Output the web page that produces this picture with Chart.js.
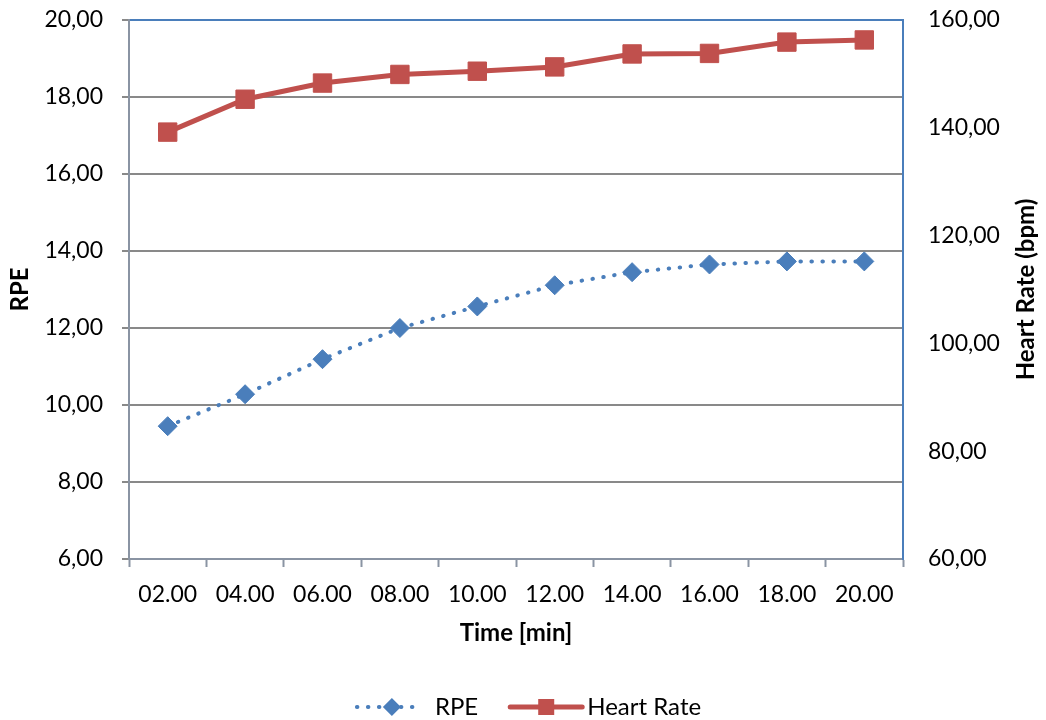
<!DOCTYPE html>
<html>
<head>
<meta charset="utf-8">
<script src="https://cdn.jsdelivr.net/npm/chart.js@4.4.1/dist/chart.umd.min.js"></script>
<style>
html, body { margin: 0; padding: 0; background: #fff; }
#wrap { width: 1046px; height: 720px; }
</style>
</head>
<body>
<div id="wrap"><canvas id="chart"></canvas></div>
<script>
'use strict'

const timeLabels = ['02.00', '04.00', '06.00', '08.00', '10.00', '12.00', '14.00', '16.00', '18.00', '20.00']
const rpeValues = [9.45, 10.28, 11.19, 12.0, 12.56, 13.11, 13.45, 13.65, 13.73, 13.73]
const heartRateValues = [139.2, 145.3, 148.3, 149.9, 150.5, 151.3, 153.7, 153.8, 155.9, 156.3]
const rpeAxis = { min: 6, max: 20, step: 2 }
const heartRateAxis = { min: 60, max: 160, step: 20 }

const BLUE = '#4a7ebb'
const RED = '#c0504d'
const GRID = '#898989'
const AXIS = '#8a94a3'
const FONT = 'Lato, "Open Sans", sans-serif'

const fmtComma = v => v.toFixed(2).replace('.', ',')

// fixed box sizes so the plot area lands where we want it
function fixWidth(w) {
	return scale => {
		scale.width = w
		scale.paddingTop = 0
		scale.paddingBottom = 0
	}
}

// legend under the chart plus the right-hand axis title (reads bottom to top)
const extras = {
	id: 'extras',
	afterDraw(chart) {
		const ctx = chart.ctx
		const area = chart.chartArea
		ctx.save()

		ctx.font = 'bold 24px ' + FONT
		ctx.fillStyle = '#000'
		ctx.textAlign = 'center'
		ctx.textBaseline = 'middle'
		ctx.translate(1026, (area.top + area.bottom) / 2)
		ctx.rotate(-Math.PI / 2)
		ctx.fillText('Heart Rate (bpm)', 0, 0)
		ctx.setTransform(1, 0, 0, 1, 0, 0)

		ctx.font = '24px ' + FONT
		const y = 707
		const wRpe = ctx.measureText('RPE').width
		const wHr = ctx.measureText('Heart Rate').width
		const total = 63 + 15 + wRpe + 32 + 72 + 5 + wHr
		let x = chart.width / 2 - total / 2 + 6

		// RPE sample: dotted line with a diamond
		ctx.strokeStyle = BLUE
		ctx.lineWidth = 4
		ctx.lineCap = 'round'
		ctx.setLineDash([0.5, 10.5])
		ctx.beginPath()
		ctx.moveTo(x, y)
		ctx.lineTo(x + 63, y)
		ctx.stroke()
		ctx.setLineDash([])
		ctx.fillStyle = BLUE
		ctx.beginPath()
		const dx = x + 35
		ctx.moveTo(dx, y - 9)
		ctx.lineTo(dx + 9, y)
		ctx.lineTo(dx, y + 9)
		ctx.lineTo(dx - 9, y)
		ctx.closePath()
		ctx.fill()
		x += 63 + 15
		ctx.fillStyle = '#000'
		ctx.textAlign = 'left'
		ctx.fillText('RPE', x, y)
		x += wRpe + 32

		// Heart Rate sample: solid line with a square
		ctx.strokeStyle = RED
		ctx.lineWidth = 5
		ctx.lineCap = 'round'
		ctx.beginPath()
		ctx.moveTo(x, y)
		ctx.lineTo(x + 72, y)
		ctx.stroke()
		ctx.fillStyle = RED
		ctx.fillRect(x + 36 - 8, y - 8, 16, 16)
		x += 72 + 5
		ctx.fillStyle = '#000'
		ctx.fillText('Heart Rate', x, y)

		ctx.restore()
	},
}

const ctx = document.getElementById('chart')

new Chart(ctx, {
	type: 'line',
	data: {
		labels: timeLabels,
		datasets: [
			{
				label: 'RPE',
				data: rpeValues,
				yAxisID: 'y',
				borderColor: BLUE,
				backgroundColor: BLUE,
				borderWidth: 4,
				borderDash: [0.5, 10.5],
				borderCapStyle: 'round',
				pointStyle: 'rectRot',
				pointRadius: 9.5,
				pointHoverRadius: 9.5,
				pointBorderWidth: 1,
				tension: 0,
			},
			{
				label: 'Heart Rate',
				data: heartRateValues,
				yAxisID: 'y1',
				borderColor: RED,
				backgroundColor: RED,
				borderWidth: 5,
				pointStyle: 'rect',
				pointRadius: 13,
				pointHoverRadius: 13,
				pointBorderWidth: 1,
				tension: 0,
			},
		],
	},
	options: {
		responsive: true,
		maintainAspectRatio: false,
		animation: false,
		layout: { padding: { top: 20, left: 0, right: 0, bottom: 0 } },
		plugins: {
			legend: { display: false },
			tooltip: { enabled: false },
		},
		scales: {
			x: {
				offset: true,
				grid: {
					offset: true,
					drawOnChartArea: false,
					tickLength: 8,
					tickColor: AXIS,
					tickWidth: 2,
				},
				border: { color: AXIS, width: 2 },
				ticks: {
					color: '#000',
					padding: 14,
					maxRotation: 0,
					font: { family: FONT, size: 23 },
				},
				title: {
					display: true,
					text: 'Time [min]',
					color: '#000',
					font: { family: FONT, size: 24, weight: 'bold' },
					padding: { top: 0, bottom: 72 },
				},
				afterFit(scale) {
					scale.height = 161
				},
			},
			y: {
				position: 'left',
				min: rpeAxis.min,
				max: rpeAxis.max,
				grid: {
					color: c => (c.tick && c.tick.value === rpeAxis.max ? BLUE : GRID),
					lineWidth: 2,
					tickLength: 7,
					tickColor: GRID,
				},
				border: { color: AXIS, width: 2 },
				ticks: {
					stepSize: rpeAxis.step,
					color: '#000',
					padding: 19,
					font: { family: FONT, size: 23 },
					callback: v => fmtComma(v),
				},
				title: {
					display: true,
					text: 'RPE',
					color: '#000',
					font: { family: FONT, size: 24, weight: 'bold' },
					padding: { top: 6, bottom: 0 },
				},
				afterFit: fixWidth(129),
			},
			y1: {
				position: 'right',
				min: heartRateAxis.min,
				max: heartRateAxis.max,
				grid: { drawOnChartArea: false, drawTicks: false },
				border: { color: BLUE, width: 2 },
				ticks: {
					stepSize: heartRateAxis.step,
					color: '#000',
					padding: 25,
					font: { family: FONT, size: 23 },
					callback: v => fmtComma(v),
				},
				afterFit: fixWidth(143),
			},
		},
	},
	plugins: [extras],
})
</script>
</body>
</html>
